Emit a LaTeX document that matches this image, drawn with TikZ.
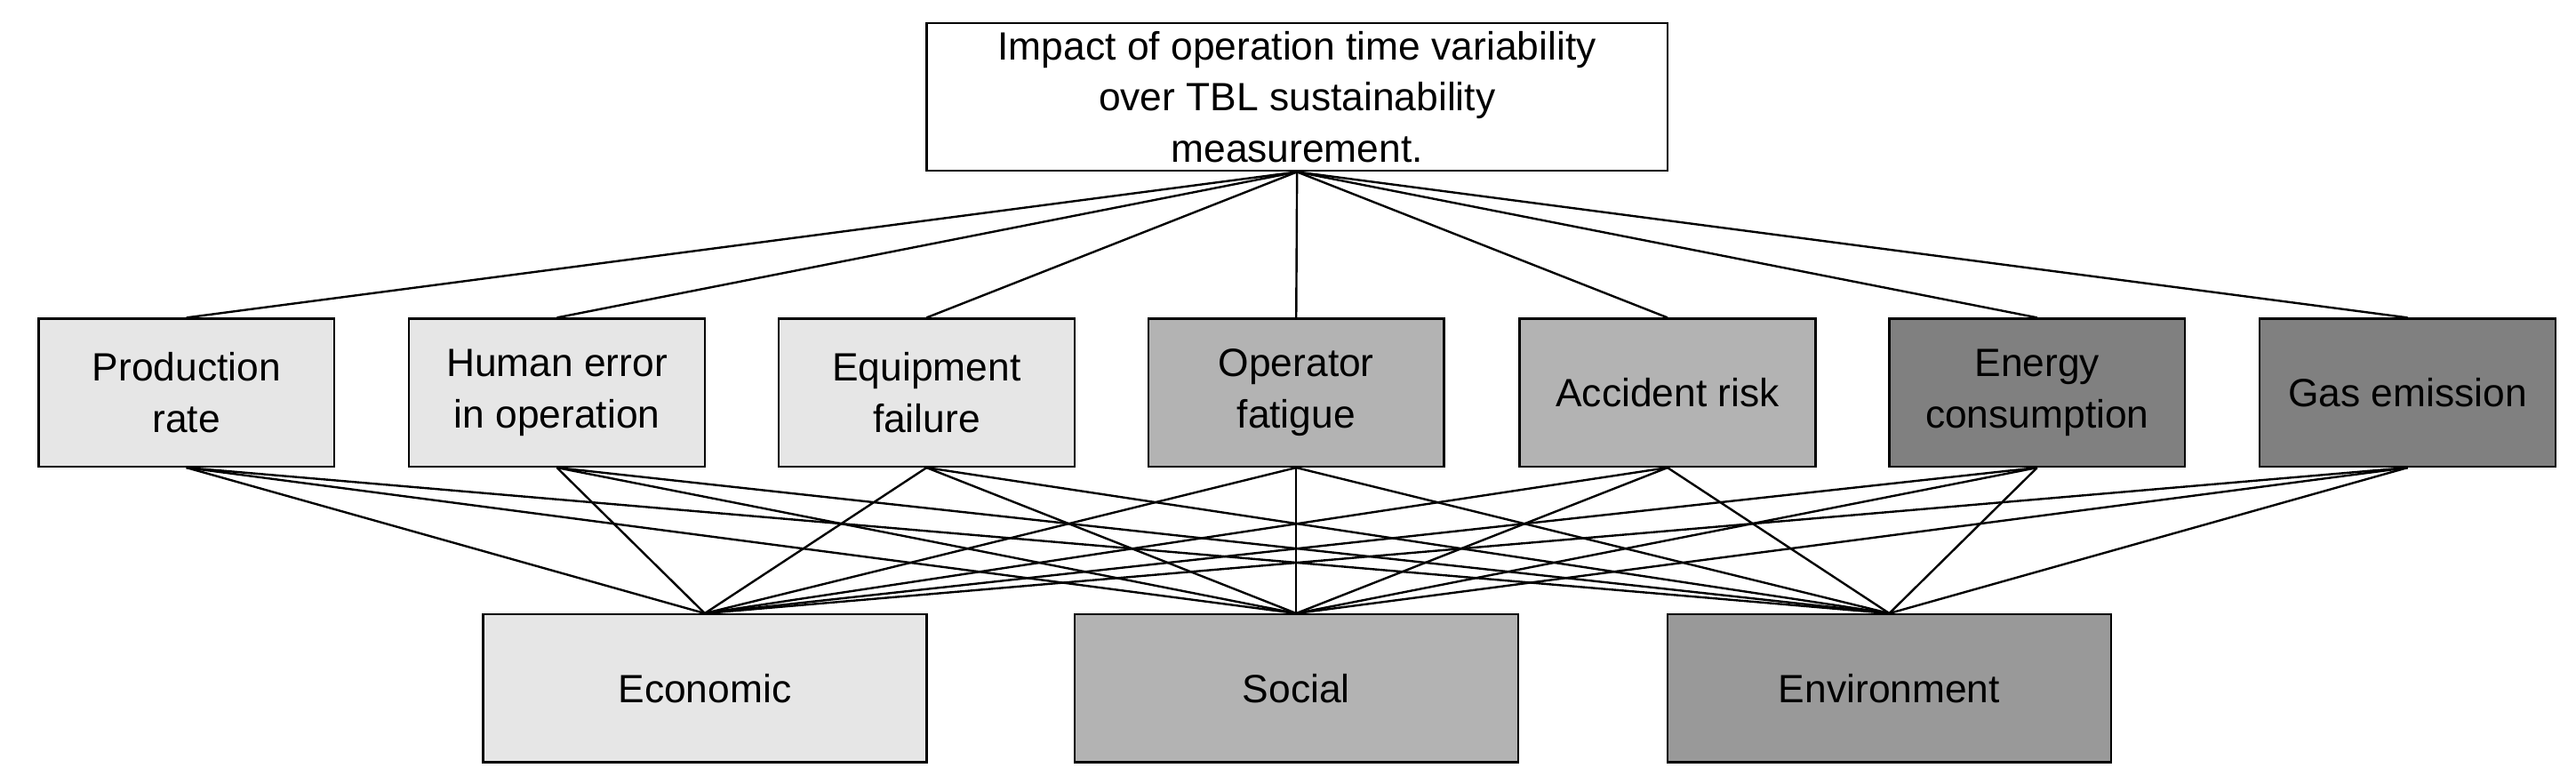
\documentclass[tikz,border=0pt]{standalone}
\usepackage{fontspec}
\setmainfont{Liberation Sans}
\begin{document}
\begin{tikzpicture}[x=1pt,y=1pt,
  box/.style={draw=black,line width=1.3pt,minimum width=180pt,minimum height=90pt,inner sep=0pt,align=center,font=\fontsize{24}{31}\selectfont},
  wide/.style={box,minimum width=270pt},
  link/.style={line width=1.3pt}]
\useasboundingbox (0,0) rectangle (1568,477);
\definecolor{ga}{HTML}{E6E6E6}\definecolor{gb}{HTML}{B3B3B3}
\definecolor{gc}{HTML}{808080}\definecolor{gd}{HTML}{999999}
\node[box,minimum width=451pt,fill=white] (top) at (789.5,418) {Impact of operation time variability\\over TBL sustainability\\measurement.};
\node[box,fill=ga] (m1) at (113.5,238) {Production\\rate};
\node[box,fill=ga] (m2) at (339,238) {Human error\\in operation};
\node[box,fill=ga] (m3) at (564,238) {Equipment\\failure};
\node[box,fill=gb] (m4) at (789,238) {Operator\\fatigue};
\node[box,fill=gb] (m5) at (1015,238) {Accident risk};
\node[box,fill=gc] (m6) at (1240,238) {Energy\\consumption};
\node[box,fill=gc] (m7) at (1465.5,238) {Gas emission};
\node[wide,fill=ga] (b1) at (429,58) {Economic};
\node[wide,fill=gb] (b2) at (789,58) {Social};
\node[wide,fill=gd] (b3) at (1150,58) {Environment};
\foreach \m in {m1,m2,m3,m4,m5,m6,m7}{
  \draw[link] (top.south) -- (\m.north);
  \foreach \b in {b1,b2,b3} \draw[link] (\m.south) -- (\b.north);
}
\end{tikzpicture}
\end{document}
